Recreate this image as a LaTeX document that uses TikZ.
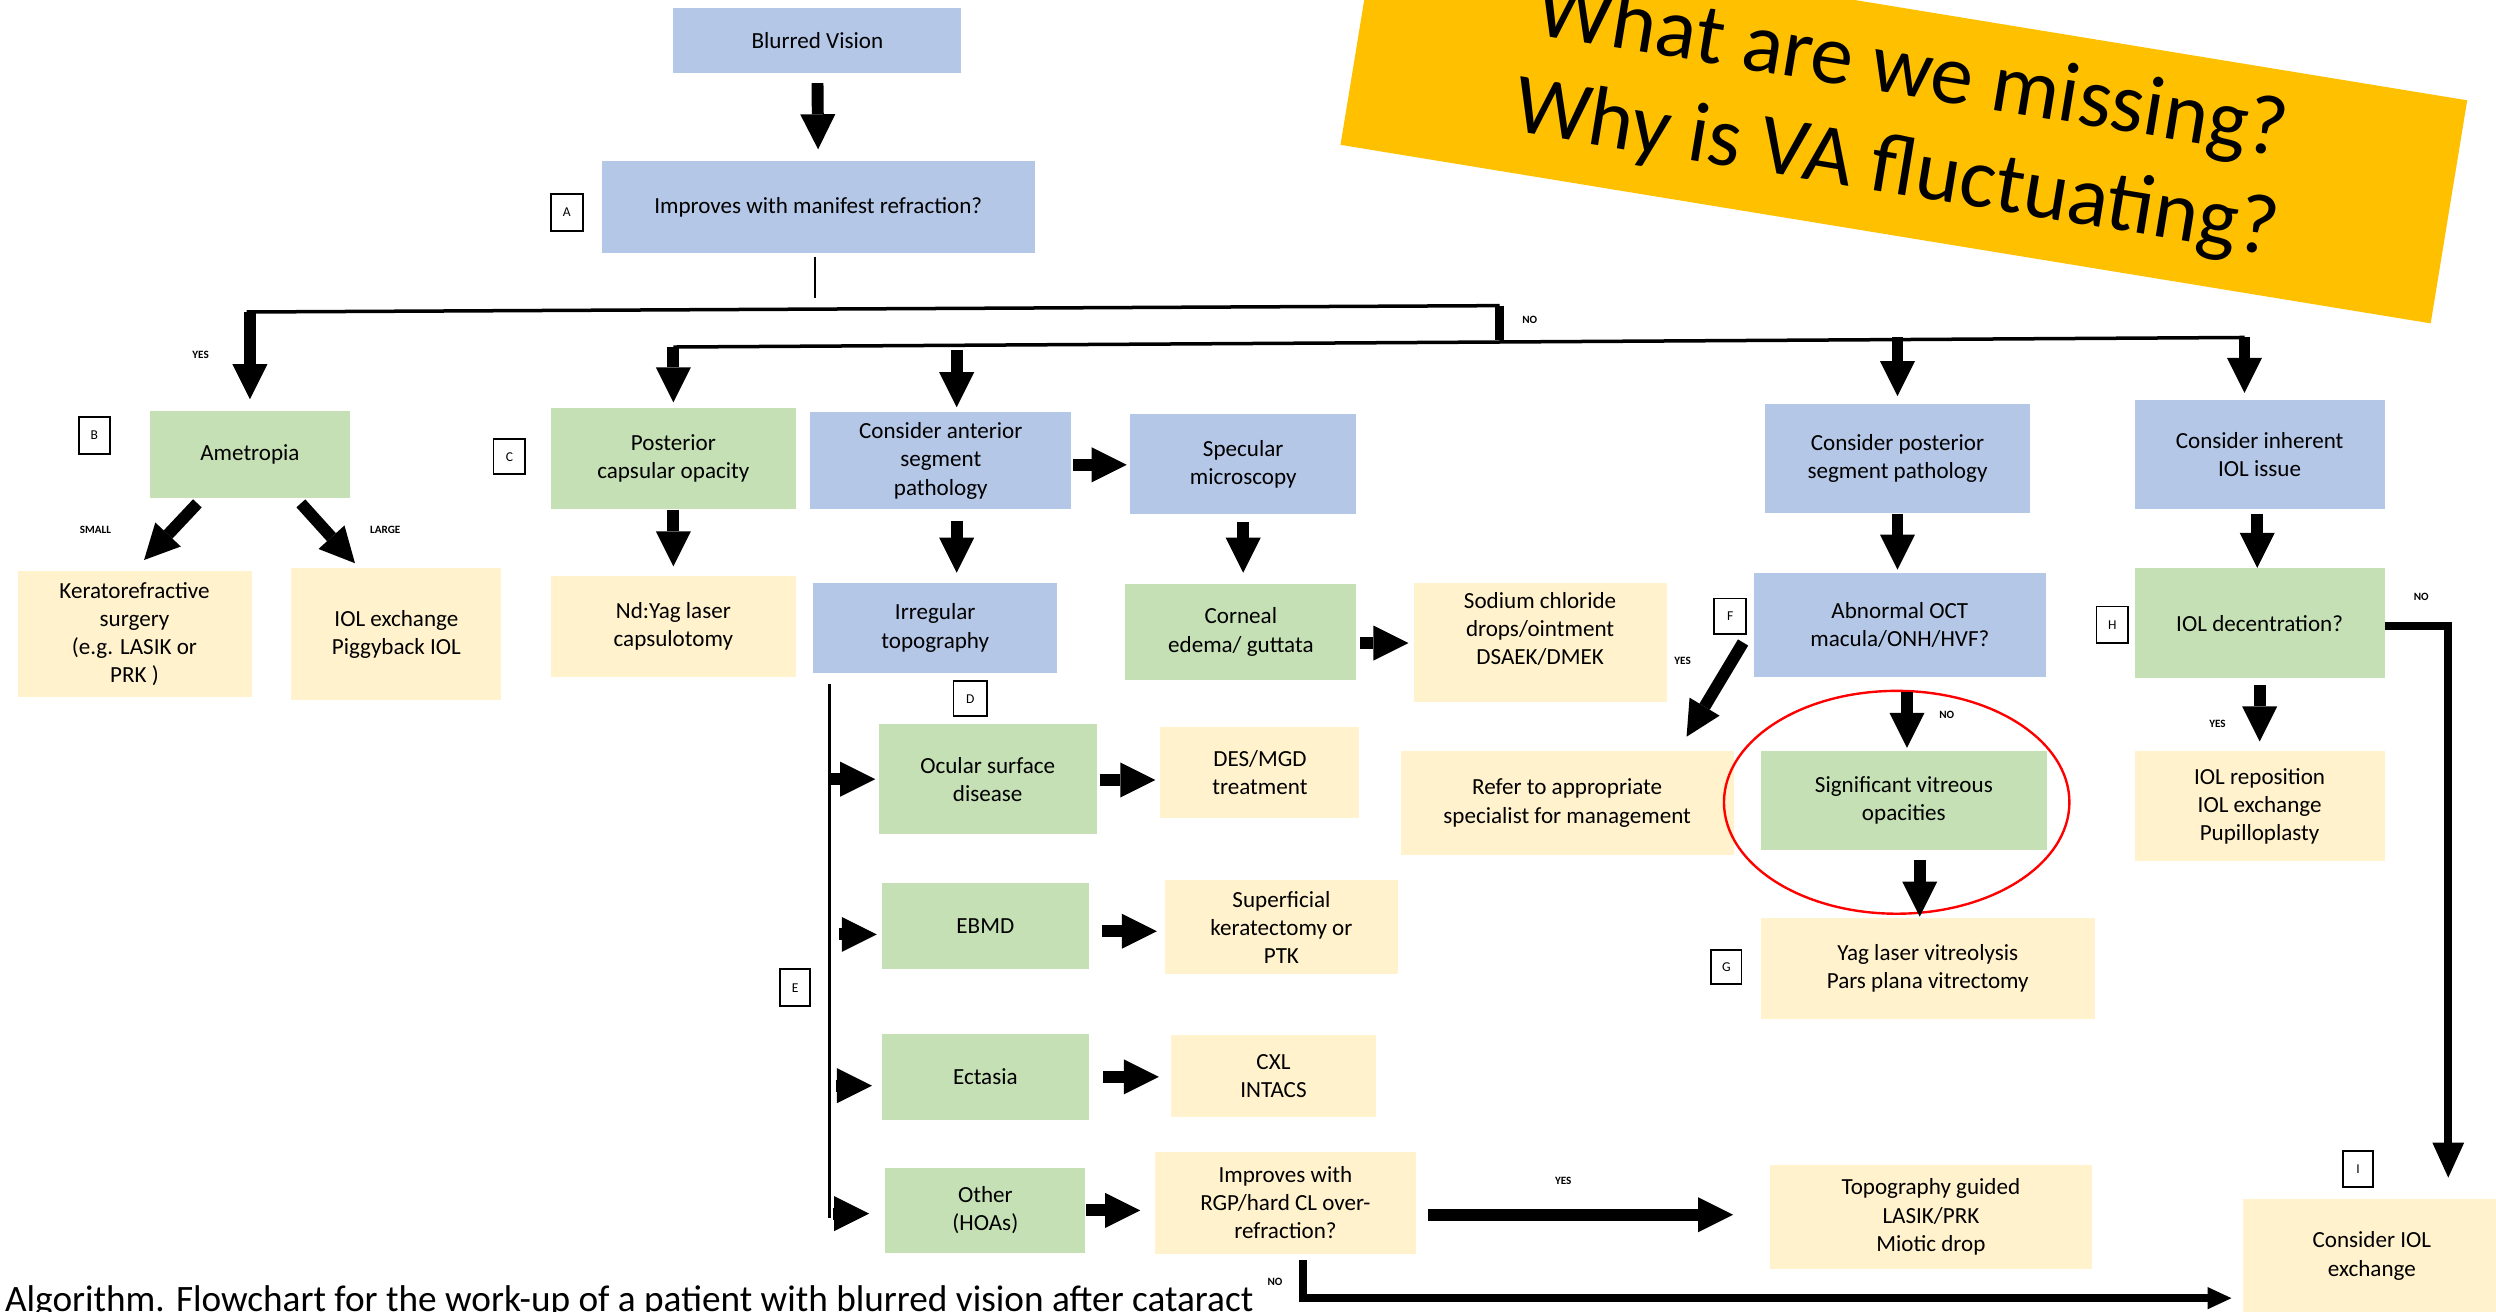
\documentclass[tikz,border=0pt]{standalone}
\usepackage{fontspec}
\setmainfont{Carlito}
\usetikzlibrary{arrows.meta}
\definecolor{bluefill}{HTML}{B4C7E7}
\definecolor{greenfill}{HTML}{C5E0B4}
\definecolor{yellowfill}{HTML}{FFF2CC}
\definecolor{bannerfill}{HTML}{FFC000}
\newcommand{\bxfont}{\fontsize{14.5}{17.7}\selectfont}
\newcommand{\tagfont}{\fontsize{8.5}{10}\selectfont}
\newcommand{\ynfont}{\fontsize{7}{8}\selectfont\bfseries}
\newcommand{\bannerfont}{\fontsize{53.5}{62}\selectfont}
\newcommand{\capfont}{\fontsize{23.4}{28}\selectfont}

\begin{document}
\begin{tikzpicture}[x=1pt, y=-1pt,
  box/.style={rectangle, inner sep=0pt, align=center, font=\bxfont},
  bluebox/.style={box, fill=bluefill},
  greenbox/.style={box, fill=greenfill},
  yellowbox/.style={box, fill=yellowfill},
  sz/.style 2 args={minimum width=#1pt, minimum height=#2pt},
  tag/.style={draw, line width=1.2pt, fill=white, inner sep=0pt, font=\tagfont},
  yn/.style={font=\ynfont, inner sep=0pt},
  blk/.style={line width=7.5pt, -{Triangle[length=22pt, width=22pt, line width=0pt]}},
  thinl/.style={line width=1.6pt},
  nol/.style={line width=5pt, -{Triangle[length=22pt, width=20pt, line width=0pt]}}]
\useasboundingbox (0,0) rectangle (1568,824);
\clip (0,0) rectangle (1568,824);

\node[rotate=-9.3, fill=bannerfill, minimum width=694pt, minimum height=142pt, inner sep=0pt, align=center, font=\bannerfont] (banner) at (1196,77) {What are we missing?\\Why is VA fluctuating?};

\node[bluebox, sz={181}{41}] (bv) at (513.5,25.5) {Blurred Vision};
\node[bluebox, sz={272}{58}] (imp) at (514,130) {Improves with manifest refraction?};
\node[tag, sz={20}{23}] (tA) at (356,133.5) {A};

\node[greenbox, sz={126}{55}] (amet) at (157,285.5) {Ametropia};
\node[tag, sz={19.5}{23}] (tB) at (59.3,273.5) {B};
\node[greenbox, sz={154}{64}] (pco) at (423,288) {Posterior\\capsular opacity};
\node[tag, sz={20}{22}] (tC) at (320,287) {C};
\node[bluebox, sz={164}{61}] (ant) at (591,289.5) {Consider anterior\\segment\\pathology};
\node[bluebox, sz={142}{63}] (spec) at (781,291.5) {Specular\\microscopy};
\node[bluebox, sz={166}{68}] (post) at (1192,288) {Consider posterior\\segment pathology};
\node[bluebox, sz={157}{69}] (inh) at (1419.5,285.5) {Consider inherent\\IOL issue};

\node[yellowbox, sz={147}{79}] (kera) at (84.5,398.5) {Keratorefractive\\surgery\\(e.g. LASIK or\\PRK )};
\node[yellowbox, sz={132}{83}] (iolx) at (249,398.5) {IOL exchange\\Piggyback IOL};
\node[yellowbox, sz={154}{63}] (ndyag) at (423,393.5) {Nd:Yag laser\\capsulotomy};
\node[bluebox, sz={153}{57}] (irreg) at (587.5,394.5) {Irregular\\topography};
\node[greenbox, sz={145}{60}] (corn) at (779.5,397) {Corneal\\edema/ guttata};
\node[yellowbox, sz={159}{75}] (nacl) at (967.5,403.5) {Sodium chloride\\drops/ointment\\DSAEK/DMEK\\~};
\node[bluebox, sz={183}{65}] (oct) at (1193.5,392.5) {Abnormal OCT\\macula/ONH/HVF?};
\node[tag, sz={20}{22}] (tF) at (1087,387) {F};
\node[greenbox, sz={157}{69}] (dec) at (1419.5,391.5) {IOL decentration?};
\node[tag, sz={20}{23}] (tH) at (1327,392.5) {H};

\node[yellowbox, sz={209}{65}] (refer) at (984.5,504.5) {Refer to appropriate\\specialist for management};
\node[greenbox, sz={180}{62}] (sig) at (1196,503) {Significant vitreous\\opacities};
\node[yellowbox, sz={157}{69}] (repos) at (1419.5,506.5) {IOL reposition\\IOL exchange\\Pupilloplasty};
\node[yellowbox, sz={210}{63}] (yag) at (1211,608.5) {Yag laser vitreolysis\\Pars plana vitrectomy};
\node[tag, sz={19}{21}] (tG) at (1084.5,607.5) {G};

\node[tag, sz={21}{22}] (tD) at (609.5,439) {D};
\node[tag, sz={19}{23}] (tE) at (499.5,620.5) {E};
\node[greenbox, sz={137}{69}] (ocul) at (620.5,489.5) {Ocular surface\\disease};
\node[yellowbox, sz={125}{57}] (des) at (791.5,485.5) {DES/MGD\\treatment};
\node[greenbox, sz={130}{54}] (ebmd) at (619,582) {EBMD};
\node[yellowbox, sz={146}{59}] (ptk) at (805,582.5) {Superficial\\keratectomy or\\PTK};
\node[greenbox, sz={130}{54}] (ecta) at (619,676.5) {Ectasia};
\node[yellowbox, sz={128.5}{52}] (cxl) at (800,676) {CXL\\INTACS};
\node[greenbox, sz={125.5}{53.3}] (other) at (619,760.4) {Other\\(HOAs)};
\node[yellowbox, sz={164}{64}] (rgp) at (807.5,755.6) {Improves with\\RGP/hard CL over-\\refraction?};
\node[yellowbox, sz={202}{65}] (topo) at (1213,764.5) {Topography guided\\LASIK/PRK\\Miotic drop};
\node[yellowbox, sz={162}{72}] (iolex) at (1490,789) {Consider IOL\\exchange};
\node[tag, sz={18.6}{22.6}] (tI) at (1481.3,734.3) {I};

\draw[red, line width=1.5pt] (1191.5,504) ellipse [x radius=108.5, y radius=70];

% first question
\draw[blk, shorten <=6pt, shorten >=7pt] (bv.south) -- (imp.north);
\coordinate (jtop) at (512,187);
\draw[thinl, shorten <=2pt] (imp.south -| jtop) -- (jtop);
\coordinate (yl) at (155,196);
\coordinate (yr) at (942,192);
\coordinate (nl) at (423,218);
\coordinate (nr) at (1410,212);
\draw[line width=2.2pt] (yl) -- (yr);
\draw[line width=5.5pt] (yr) -- ++(0,21.5);
\draw[line width=2.2pt] (nl) -- (nr);
\draw[blk, shorten >=7pt] (amet.north |- yl) -- (amet.north);
\draw[blk, shorten >=3pt] (pco.north |- nl) -- (pco.north);
\draw[blk, shorten <=2pt, shorten >=3pt] ([xshift=10pt]ant.north |- nl) -- ([xshift=10pt]ant.north);
\draw[blk, shorten >=5pt] (post.north |- nr) -- (post.north);
\draw[blk, shorten >=4pt] (nr) -- (nr |- inh.north);

% second row
\draw[blk] ([xshift=-33pt,yshift=-3pt]amet.south) -- ([xshift=6pt,yshift=7pt]kera.north);
\draw[blk] ([xshift=32pt,yshift=-3pt]amet.south) -- ([xshift=-26pt,yshift=3pt]iolx.north);
\draw[blk, shorten >=6pt] (pco.south) -- (ndyag.north);
\draw[blk, shorten <=7pt, shorten >=6pt] ([xshift=10pt]ant.south) -- ([xshift=10pt]ant.south |- irreg.north);
\draw[blk, shorten <=1pt, shorten >=2pt] ([yshift=-2.5pt]ant.east) -- ([yshift=-2.5pt]ant.east -| spec.west);
\draw[blk, shorten <=5pt, shorten >=7pt] (spec.south) -- (spec.south |- corn.north);
\draw[blk, shorten <=2pt, shorten >=3pt] ([yshift=-7pt]corn.east) -- ([yshift=-7pt]corn.east -| nacl.west);
\draw[blk, shorten <=1pt, shorten >=2pt] (post.south) -- (post.south |- oct.north);
\draw[blk, shorten <=3pt] ([xshift=-1.5pt]inh.south) -- ([xshift=-1.5pt]inh.south |- dec.north);

% posterior and IOL
\draw[blk, shorten <=9.5pt, shorten >=2pt] ([xshift=4.5pt]oct.south) -- ([xshift=4.5pt]oct.south |- sig.north);
\draw[blk, shorten <=6pt, shorten >=1pt] ([xshift=10pt]sig.south) -- ([xshift=10pt]sig.south |- yag.north);
\draw[blk, shorten <=4pt, shorten >=6pt] (dec.south) -- (repos.north);
\draw[blk] ([xshift=8pt,yshift=-5pt]tF.south) -- ([xshift=75pt,yshift=9pt]refer.north);
\draw[nol, shorten >=13pt] ([yshift=-1.5pt]dec.east) -| ([xshift=48pt]iolex.north);

% irregular topography
\coordinate (trT) at (521,430);
\coordinate (trB) at (521,765);
\draw[line width=1.7pt] (trT) -- (trB);
\draw[blk, shorten >=2pt] (ocul.west -| trT) -- (ocul.west);
\draw[blk, shorten <=6pt, shorten >=3pt] ([yshift=-5pt]ebmd.west -| trT) -- ([yshift=-5pt]ebmd.west);
\draw[blk, shorten <=4pt, shorten >=6pt] ([yshift=-5.5pt]ecta.west -| trT) -- ([yshift=-5.5pt]ecta.west);
\draw[blk, shorten <=2pt, shorten >=10pt] ([yshift=-2pt]other.west -| trT) -- ([yshift=-2pt]other.west);
\draw[blk, shorten <=2pt, shorten >=3pt] ([yshift=-0.5pt]ocul.east) -- ([yshift=-0.5pt]ocul.east -| des.west);
\draw[blk, shorten <=8pt, shorten >=5pt] ([yshift=-3pt]ebmd.east) -- ([yshift=-3pt]ebmd.east -| ptk.west);
\draw[blk, shorten <=9pt, shorten >=7.5pt] (ecta.east) -- (ecta.east -| cxl.west);
\draw[blk, shorten <=0.5pt, shorten >=9pt] (other.east) -- (other.east -| rgp.west);
\draw[blk, shorten <=7.5pt, shorten >=23pt] ([yshift=-7.5pt]rgp.east) -- ([yshift=-7.5pt]rgp.east -| topo.west);
\draw[line width=5.2pt, -{Triangle[length=15pt, width=14pt, line width=0pt]}, shorten <=4pt, shorten >=7pt] ([xshift=11pt]rgp.south) |- ([yshift=-26.5pt]iolex.west);

\node[yn] (yes1) at (126,223) {YES};
\node[yn] (no1) at (961,201) {NO};
\node[yn] (small) at (60,333) {SMALL};
\node[yn] (large) at (242,333) {LARGE};
\node[yn] (yes2) at (1057,415) {YES};
\node[yn] (no2) at (1223,449) {NO};
\node[yn] (yes3) at (1393,455) {YES};
\node[yn] (no3) at (1521,375) {NO};
\node[yn] (yes4) at (982,742) {YES};
\node[yn] (no4) at (801,805) {NO};

\node[anchor=base west, font=\capfont, inner sep=0pt] (cap) at (3,824) {Algorithm. Flowchart for the work-up of a patient with blurred vision after cataract};
\end{tikzpicture}
\end{document}
